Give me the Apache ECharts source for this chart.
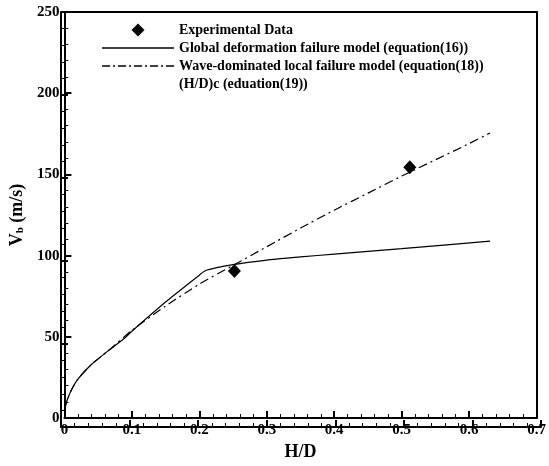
<!DOCTYPE html>
<html>
<head>
<meta charset="utf-8">
<script src="https://cdn.jsdelivr.net/npm/echarts@6/dist/echarts.min.js"></script>
<style>
    html, body { margin: 0; padding: 0; background: #fff; }
    #chart { width: 549px; height: 466px; }
</style>
</head>
<body>
<div id="chart"></div>
<script>
// experimental points [H/D, Vb]
let experimental = [[0.252, 90.5], [0.512, 154.5]];

// global deformation failure model (equation 16)
let globalHD = [0, 0.004, 0.01, 0.02, 0.04, 0.065, 0.09, 0.1, 0.15, 0.2, 0.21, 0.25, 0.3, 0.35, 0.4, 0.5, 0.631];
let globalVb = [5, 11, 17, 24, 33, 41.5, 49.5, 53.5, 71.5, 88, 91, 94.5, 97.3, 99.2, 101, 104.3, 109];

// wave-dominated local failure model (equation 18)
let waveHD = [0, 0.004, 0.01, 0.02, 0.04, 0.065, 0.1, 0.15, 0.2, 0.25, 0.3, 0.35, 0.4, 0.45, 0.5, 0.55, 0.6, 0.631];
let waveVb = [5, 11, 17, 24, 33, 41.5, 54, 69, 82.5, 94, 105.5, 117, 128, 138.5, 149, 159, 169, 175.5];

let legendNames = [
    'Experimental Data',
    'Global deformation failure model (equation(16))',
    'Wave-dominated local failure model (equation(18))',
    '(H/D)c (eduation(19))'
];

let font = '"Liberation Serif", "Times New Roman", serif';

// legend icons (the line series would otherwise show a circle)
let diamondIcon = 'path://M0,-1L1,0L0,1L-1,0Z';
let solidIcon = 'path://M0,0h72v1.5h-72z';
let dashDotIcon = 'path://M0,0h8v1.5h-8z M11,0h2v1.5h-2z M16,0h8v1.5h-8z M27,0h2v1.5h-2z M32,0h8v1.5h-8z' +
    ' M43,0h2v1.5h-2z M48,0h8v1.5h-8z M59,0h2v1.5h-2z M64,0h8v1.5h-8z';

let gridBox = { left: 61, right: 8, top: 12, bottom: 39 };

let zip = function(xs, ys) {
    return xs.map(function(x, i) { return [x, ys[i]]; });
};

// plain frame axis for the top / right edges
let frameAxis = function(pos, min, max) {
    return {
        type: 'value',
        gridIndex: 0,
        position: pos,
        min: min,
        max: max,
        axisLine: { show: true, onZero: false, lineStyle: { color: '#000', width: 2 } },
        axisTick: { show: false },
        axisLabel: { show: false },
        splitLine: { show: false }
    };
};

// bare axis on a twin grid that only carries the inward ticks
let tickAxis = function(pos, min, max, interval) {
    return {
        type: 'value',
        gridIndex: 1,
        position: pos,
        min: min,
        max: max,
        interval: interval,
        axisLine: { show: true, onZero: false, lineStyle: { color: '#000', width: 2 } },
        axisTick: { show: true, inside: true, length: 7, lineStyle: { color: '#000', width: 2 } },
        minorTick: { show: true, splitNumber: 5, length: 4, lineStyle: { color: '#000', width: 1 } },
        axisLabel: { show: false },
        splitLine: { show: false }
    };
};

let myChart = echarts.init(document.getElementById('chart'));

let options = {
    animation: false,
    backgroundColor: '#fff',
    grid: [
        Object.assign({}, gridBox),
        Object.assign({}, gridBox)
    ],
    legend: {
        orient: 'vertical',
        left: 97,
        top: 18,
        itemWidth: 72,
        itemHeight: 13,
        itemGap: 4,
        symbolKeepAspect: true,
        data: [
            { name: legendNames[0], icon: diamondIcon },
            { name: legendNames[1], icon: solidIcon },
            { name: legendNames[2], icon: dashDotIcon },
            { name: legendNames[3], icon: 'none' }
        ],
        textStyle: { fontFamily: font, fontSize: 14, fontWeight: 'bold', color: '#000' }
    },
    xAxis: [
        {
            type: 'value',
            gridIndex: 0,
            position: 'bottom',
            min: 0,
            max: 0.7,
            interval: 0.1,
            name: 'H/D',
            nameLocation: 'middle',
            nameGap: 22,
            nameTextStyle: { fontFamily: font, fontSize: 18, fontWeight: 'bold', color: '#000' },
            axisLine: { show: true, onZero: false, lineStyle: { color: '#000', width: 2 } },
            axisTick: { show: true, inside: true, length: 7, lineStyle: { color: '#000', width: 2 } },
            minorTick: { show: true, splitNumber: 5, length: 4, lineStyle: { color: '#000', width: 1 } },
            splitLine: { show: false },
            axisLabel: {
                fontFamily: font, fontSize: 15, fontWeight: 'bold', color: '#000', margin: 5,
                formatter: function(v) { return String(Math.round(v * 10) / 10); }
            }
        },
        frameAxis('top', 0, 0.7),
        tickAxis('bottom', 0, 0.7, 0.1)
    ],
    yAxis: [
        {
            type: 'value',
            gridIndex: 0,
            position: 'left',
            min: 0,
            max: 250,
            interval: 50,
            name: '{t|V}{s|b}{t| (m/s)}',
            nameLocation: 'middle',
            nameGap: 33,
            nameRotate: 90,
            nameTextStyle: {
                rich: {
                    t: { fontFamily: font, fontSize: 18, fontWeight: 'bold', color: '#000' },
                    s: { fontFamily: font, fontSize: 11, fontWeight: 'bold', color: '#000', verticalAlign: 'bottom' }
                }
            },
            axisLine: { show: true, onZero: false, lineStyle: { color: '#000', width: 2 } },
            axisTick: { show: true, inside: true, length: 7, lineStyle: { color: '#000', width: 2 } },
            minorTick: { show: true, splitNumber: 5, length: 4, lineStyle: { color: '#000', width: 1 } },
            splitLine: { show: false },
            axisLabel: { fontFamily: font, fontSize: 15, fontWeight: 'bold', color: '#000', margin: 5 }
        },
        frameAxis('right', 0, 250),
        tickAxis('left', 0, 250, 50)
    ],
    series: [
        {
            name: legendNames[0],
            type: 'scatter',
            xAxisIndex: 0,
            yAxisIndex: 0,
            symbol: 'diamond',
            symbolSize: [13, 14],
            itemStyle: { color: '#000', opacity: 1 },
            data: experimental
        },
        {
            name: legendNames[1],
            type: 'line',
            xAxisIndex: 0,
            yAxisIndex: 0,
            symbol: 'none',
            smooth: 0.2,
            lineStyle: { color: '#000', width: 1.2 },
            itemStyle: { color: '#000' },
            data: zip(globalHD, globalVb)
        },
        {
            name: legendNames[2],
            type: 'line',
            xAxisIndex: 0,
            yAxisIndex: 0,
            symbol: 'none',
            smooth: 0.2,
            lineStyle: { color: '#000', width: 1.2, type: [9, 4, 2, 4] },
            itemStyle: { color: '#000' },
            data: zip(waveHD, waveVb)
        },
        {
            name: legendNames[3],
            type: 'line',
            xAxisIndex: 0,
            yAxisIndex: 0,
            symbol: 'none',
            itemStyle: { color: '#000' },
            data: []
        }
    ]
};

myChart.setOption(options);
</script>
</body>
</html>
